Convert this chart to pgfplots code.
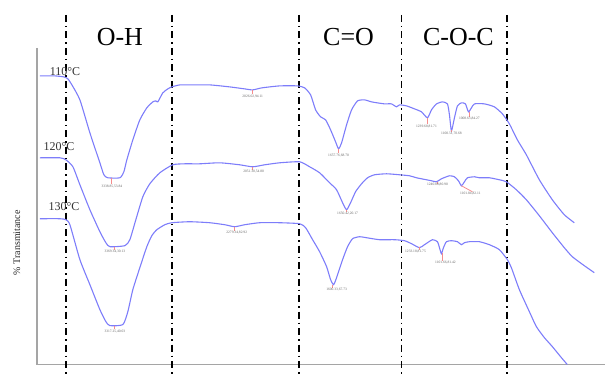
\documentclass[border=0pt]{standalone}
\usepackage{pgfplots}
\pgfplotsset{compat=1.18}
\usepackage{fontspec}
\setmainfont{Liberation Serif}
\definecolor{spec}{RGB}{125,125,250}
\definecolor{axgray}{RGB}{165,165,165}
\definecolor{pk}{RGB}{245,140,140}
\begin{document}
\begin{tikzpicture}
\begin{axis}[width=606pt, height=376pt, scale only axis,
  xmin=0, xmax=606, ymin=0, ymax=376, y dir=reverse,
  hide axis, clip=false]
\addplot[draw=none] coordinates {(0,0) (606,376)};
% axis lines
\addplot[axgray, line width=1.5pt] coordinates {(37,48) (37,365) (606,365)};
% dash-dot lines
\pgfplotsinvokeforeach{66,172,299,402,508}{
  \addplot[black, line width=1.8pt, dash pattern=on 7pt off 4pt on 1.5pt off 4pt] coordinates {(#1,15) (#1,376)};
}
% 110 C
\addplot[spec, line width=1.1pt, smooth, tension=0.35] coordinates {
(40,76) (55,76) (64,77) (68,79) (72,85) (80,100) (90,133) (100,163) (104,175) (108,178) (120,178) (124,172) (127,160) (133,140) (140,120) (147,108) (153,102) (156,101) (158,102) (163,93) (168,89) (172,87) (180,85) (190,85) (210,85) (230,87) (245,89) (253,90) (262,88) (280,86) (298,86) (305,88) (311,95) (316,110) (321,117) (326,120) (331,130) (336,142) (339,149) (342,143) (347,125) (352,110) (358,101) (365,100) (372,102) (378,103) (385,104) (392,104) (397,107) (400,105) (407,106) (415,109) (422,112) (428,118) (432,110) (437,104) (443,102) (448,104) (450,115) (452,131) (455,118) (458,106) (462,103) (466,104) (469,112) (472,108) (475,104) (485,104) (495,107) (503,114) (510,124) (518,140) (527,155) (540,180) (553,200) (565,215) (575,223)};
% 120 C
\addplot[spec, line width=1.1pt, smooth, tension=0.35] coordinates {
(40,158) (60,158) (66,160) (73,167) (80,185) (90,210) (100,232) (106,243) (110,247) (125,246) (130,240) (136,220) (143,197) (150,184) (160,173) (173,165) (185,164) (200,164) (220,163) (240,165) (253,167) (265,165) (280,163) (300,162) (310,167) (320,173) (330,183) (337,190) (343,203) (347,210) (351,203) (356,192) (362,184) (368,178) (375,175) (387,174) (400,175) (410,176) (417,178) (427,180) (432,181) (437,182) (442,179) (450,176) (455,177) (459,181) (462,186) (465,182) (468,178) (475,177) (480,178) (490,178) (500,180) (507,182) (517,190) (527,200) (540,216) (553,233) (565,248) (573,257) (585,266) (595,273)};
% 130 C
\addplot[spec, line width=1.1pt, smooth, tension=0.35] coordinates {
(40,219) (60,219) (66,220) (70,225) (80,260) (90,285) (100,310) (106,322) (110,326) (123,325) (128,312) (133,290) (140,268) (147,247) (152,236) (157,230) (165,225) (172,223) (190,222) (210,223) (225,225) (235,227) (245,225) (260,223) (280,223) (300,224) (306,228) (313,240) (320,252) (327,267) (331,280) (334,285) (337,278) (343,260) (348,247) (353,239) (360,237) (367,238) (380,240) (395,240) (405,241) (412,244) (420,248) (425,245) (433,240) (438,242) (440,248) (442,254) (444,248) (447,242) (452,241) (458,242) (462,245) (465,243) (470,242) (480,242) (490,245) (500,250) (508,260) (512,268) (520,290) (530,312) (537,327) (545,338) (553,347) (562,358) (568,365)};
% peak ticks
\addplot[pk, line width=0.8pt] coordinates {(112,178) (112,184)};
\addplot[pk, line width=0.8pt] coordinates {(253,90) (253,94)};
\addplot[pk, line width=0.8pt] coordinates {(339,149) (339,153)};
\addplot[pk, line width=0.8pt] coordinates {(428,118) (428,124)};
\addplot[pk, line width=0.8pt] coordinates {(452,130) (452,132)};
\addplot[pk, line width=0.8pt] coordinates {(470,112) (470,117)};
\addplot[pk, line width=0.8pt] coordinates {(115,247) (115,250)};
\addplot[pk, line width=0.8pt] coordinates {(253,167) (253,170)};
\addplot[pk, line width=0.8pt] coordinates {(347,210) (347,212)};
\addplot[pk, line width=0.8pt] coordinates {(438,182) (438,184)};
\addplot[pk, line width=0.8pt] coordinates {(462,186) (473,192)};
\addplot[pk, line width=0.8pt] coordinates {(115,326) (115,329)};
\addplot[pk, line width=0.8pt] coordinates {(235,227) (235,231)};
\addplot[pk, line width=0.8pt] coordinates {(333,285) (333,288)};
\addplot[pk, line width=0.8pt] coordinates {(420,247) (420,250)};
\addplot[pk, line width=0.8pt] coordinates {(443,253) (443,261)};
% peak labels
\begin{scope}[every node/.style={font=\fontsize{3.6}{4}\selectfont, text=black!60, inner sep=0pt}]
\node at (axis cs:112,187) {3338.85,53.84};
\node at (axis cs:253,97) {2026.02,94.11};
\node at (axis cs:339,156) {1657.76,68.70};
\node at (axis cs:427,127) {1239.68,81.71};
\node at (axis cs:452,134) {1100.51,70.68};
\node at (axis cs:470,119) {1008.63,84.27};
\node at (axis cs:115,252) {3369.34,30.13};
\node at (axis cs:254,172) {2051.30,54.80};
\node at (axis cs:348,214) {1650.42,20.17};
\node at (axis cs:438,185) {1240.88,80.90};
\node at (axis cs:471,194) {1101.84,82.11};
\node at (axis cs:115,332) {3317.25,40.03};
\node at (axis cs:237,233) {2279.34,82.92};
\node at (axis cs:337,290) {1600.33,67.73};
\node at (axis cs:416,252) {1233.18,81.75};
\node at (axis cs:446,263) {1101.66,81.42};
\end{scope}
% curve labels
\node[font=\fontsize{12}{14}\selectfont, text=black!80] at (axis cs:65,72) {110°C};
\node[font=\fontsize{12}{14}\selectfont, text=black!80] at (axis cs:59,147) {120°C};
\node[font=\fontsize{12}{14}\selectfont, text=black!80] at (axis cs:64,207) {130°C};
% band labels
\node[font=\fontsize{26}{30}\selectfont] at (axis cs:120,37) {O-H};
\node[font=\fontsize{26}{30}\selectfont] at (axis cs:349,37) {C=O};
\node[font=\fontsize{26}{30}\selectfont] at (axis cs:459,37) {C-O-C};
% y label
\node[rotate=90, font=\fontsize{10}{12}\selectfont, text=black!85] at (axis cs:17,243) {\% Transmitance};
\end{axis}
\end{tikzpicture}
\end{document}
